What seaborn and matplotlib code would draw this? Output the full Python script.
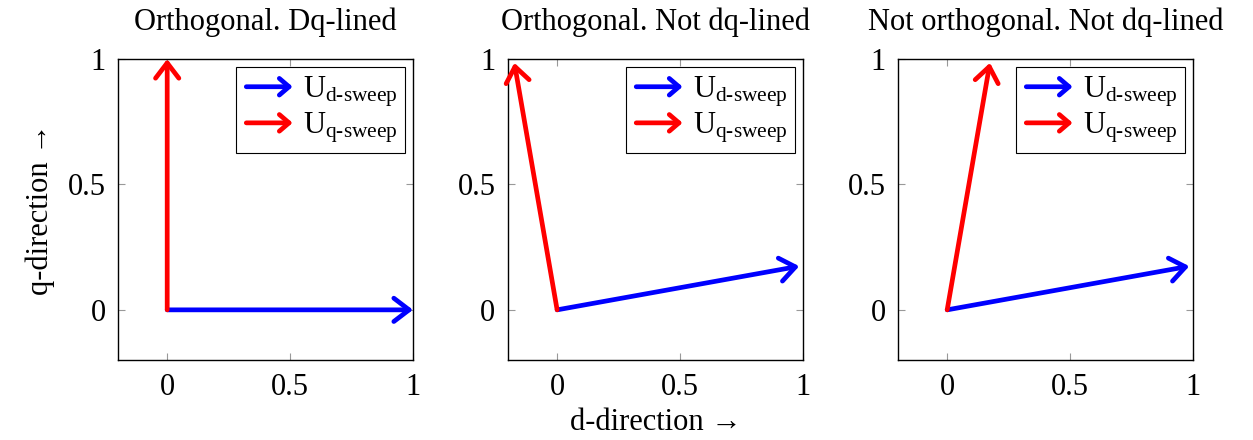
import matplotlib
matplotlib.use("Agg")
import matplotlib.pyplot as plt
import matplotlib.patches as mpatches
from matplotlib.legend_handler import HandlerPatch
import seaborn as sns

titles = ["Orthogonal. Dq-lined", "Orthogonal. Not dq-lined", "Not orthogonal. Not dq-lined"]
d_sweep_x = [1.0, 0.985, 0.985]
d_sweep_y = [0.0, 0.174, 0.174]
q_sweep_x = [0.0, -0.174, 0.174]
q_sweep_y = [1.0, 0.985, 0.985]
ticks = [0, 0.5, 1]
tick_labels = ["0", "0.5", "1"]

FS = 22

sns.set_theme(style="ticks")
plt.rcParams["font.family"] = ["Liberation Serif", "DejaVu Serif"]
plt.rcParams["mathtext.fontset"] = "custom"
plt.rcParams["mathtext.rm"] = "Liberation Serif"
plt.rcParams["mathtext.it"] = "Liberation Serif:italic"
plt.rcParams["text.color"] = "black"
plt.rcParams["axes.labelcolor"] = "black"


def make_arrow(legend, orig_handle, xdescent, ydescent, width, height, fontsize):
    return mpatches.FancyArrowPatch((-xdescent, height / 2 - ydescent),
                                    (width - xdescent, height / 2 - ydescent),
                                    arrowstyle="->,head_length=7,head_width=6",
                                    mutation_scale=1)


fig = plt.figure(figsize=(12.53, 4.4), dpi=100)
lefts = [0.0942, 0.4054, 0.7167]
axes = [fig.add_axes([l, 0.1818, 0.2354, 0.684]) for l in lefts]

for i, ax in enumerate(axes):
    for x, y, c in [(d_sweep_x[i], d_sweep_y[i], "blue"), (q_sweep_x[i], q_sweep_y[i], "red")]:
        ax.annotate("", xy=(x, y), xytext=(0, 0),
                    arrowprops=dict(arrowstyle="->,head_length=0.55,head_width=0.42",
                                    lw=3.4, color=c, shrinkA=0, shrinkB=0,
                                    mutation_scale=20))
    ax.set_xlim(-0.2, 1)
    ax.set_ylim(-0.2, 1)
    ax.set_xticks(ticks)
    ax.set_xticklabels(tick_labels)
    ax.set_yticks(ticks)
    ax.set_yticklabels(tick_labels)
    ax.tick_params(direction="in", top=True, right=True, length=5, width=0.8,
                   color="#999999", labelcolor="black", labelsize=FS, pad=9)
    for s in ax.spines.values():
        s.set_linewidth(1.0)
        s.set_color("black")
    ax.set_title(titles[i], fontsize=FS, pad=21)
    h1 = mpatches.Patch(edgecolor="blue", facecolor="none", linewidth=3.4)
    h2 = mpatches.Patch(edgecolor="red", facecolor="none", linewidth=3.4)
    leg = ax.legend([h1, h2], [r"U$_\text{d-sweep}$", r"U$_\text{q-sweep}$"],
                    loc="upper right", fontsize=FS, fancybox=False,
                    framealpha=1, edgecolor="black", handlelength=1.7,
                    handletextpad=0.25, borderpad=0.25, labelspacing=0.05,
                    borderaxespad=0.25,
                    handler_map={mpatches.Patch: HandlerPatch(patch_func=make_arrow)})
    leg.get_frame().set_linewidth(0.8)

axes[0].set_ylabel("q-direction →", fontsize=FS, labelpad=9)
axes[1].set_xlabel("d-direction →", fontsize=FS, labelpad=5)

fig.savefig("out.png", dpi=100)
